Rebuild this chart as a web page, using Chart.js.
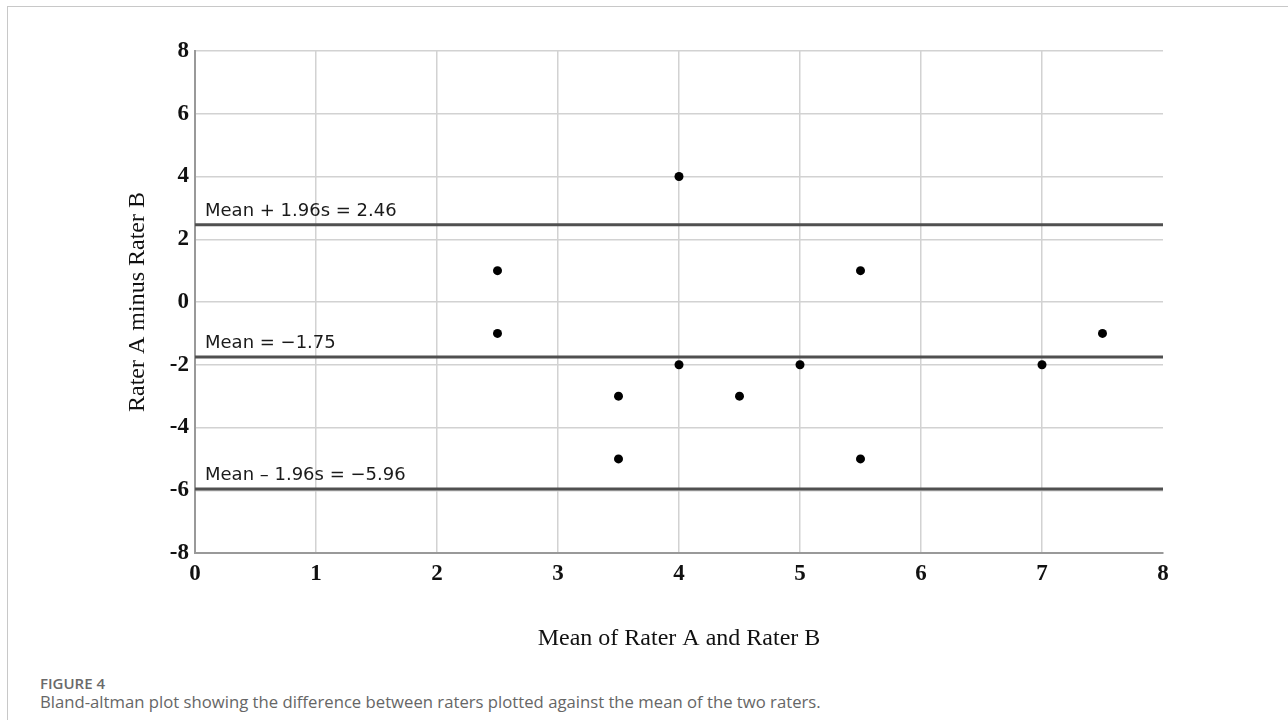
<!DOCTYPE html>
<html>
<head>
<meta charset="utf-8">
<script src="https://cdn.jsdelivr.net/npm/chart.js@4/dist/chart.umd.min.js"></script>
<style>
  body { margin: 0; background: #fff; width: 1288px; height: 720px; overflow: hidden; position: relative; }
  .frame { position: absolute; left: 7px; top: 6px; right: 0; bottom: 0; border-left: 1.5px solid #c8c8c8; border-top: 1.5px solid #c8c8c8; }
  #wrap { position: absolute; left: 0; top: 0; width: 1288px; height: 660px; }
  .fig-label { position: absolute; left: 40px; top: 673px; font: 600 15px "Open Sans", sans-serif; color: #6a6a6a; }
  .fig-caption { position: absolute; left: 40px; top: 690px; font: 400 16.7px "Open Sans", sans-serif; color: #666; }
</style>
</head>
<body>
<div class="frame"></div>
<div id="wrap"><canvas id="myChart"></canvas></div>
<div class="fig-label">FIGURE 4</div>
<div class="fig-caption">Bland-altman plot showing the difference between raters plotted against the mean of the two raters.</div>
<script>
// mean of the two raters (x) and difference A - B (y)
const meanAB = [2.5, 2.5, 4, 3.5, 3.5, 4, 4.5, 5, 5.5, 5.5, 7, 7.5];
const diffAB = [1, -1, 4, -3, -5, -2, -3, -2, 1, -5, -2, -1];

// limits of agreement
const refValues = [2.46, -1.75, -5.96];
const refLabels = ['Mean + 1.96s = 2.46', 'Mean = \u22121.75', 'Mean \u2013 1.96s = \u22125.96'];

const xRange = [0, 8];
const yRange = [-8, 8];

const points = meanAB.map((m, i) => ({ x: m, y: diffAB[i] }));

const datasets = [{
  type: 'scatter',
  label: 'Raters',
  data: points,
  backgroundColor: '#000',
  borderWidth: 0,
  pointRadius: 4.5,
  order: 0
}];

refValues.forEach((v, i) => {
  datasets.push({
    type: 'line',
    label: refLabels[i],
    data: [{ x: xRange[0], y: v }, { x: xRange[1], y: v }],
    borderColor: '#505050',
    borderWidth: 3,
    pointRadius: 0,
    fill: false,
    order: 1
  });
});

// write the text just above each reference line
const refText = {
  id: 'refText',
  afterDatasetsDraw(chart) {
    const { ctx, chartArea, scales } = chart;
    ctx.save();
    ctx.font = '18px "DejaVu Sans", sans-serif';
    ctx.fillStyle = '#1a1a1a';
    ctx.textAlign = 'left';
    ctx.textBaseline = 'alphabetic';
    refValues.forEach((v, i) => {
      const y = scales.y.getPixelForValue(v);
      ctx.fillText(refLabels[i], chartArea.left + 10, y - 9);
    });
    ctx.restore();
  }
};

const tickFont = { family: '"Liberation Serif", "Times New Roman", serif', size: 23, weight: 'bold' };
const titleFont = { family: '"Liberation Serif", "Times New Roman", serif', size: 24 };

new Chart(document.getElementById('myChart').getContext('2d'), {
  data: { datasets: datasets },
  options: {
    responsive: true,
    maintainAspectRatio: false,
    animation: false,
    layout: { padding: { left: 119, top: 51, right: 125, bottom: 3 } },
    scales: {
      x: {
        type: 'linear',
        min: xRange[0],
        max: xRange[1],
        ticks: { stepSize: 1, padding: 7, color: '#111', font: tickFont },
        grid: {
          // no vertical line on the right edge
          color: c => (c.tick && c.tick.value === xRange[1]) ? 'rgba(0,0,0,0)' : '#d2d2d2',
          lineWidth: 1.5,
          drawTicks: false
        },
        border: { color: '#999', width: 2 },
        title: { display: true, text: 'Mean of Rater A and Rater B', color: '#111', font: titleFont },
        afterFit: s => { s.height = 104; }
      },
      y: {
        type: 'linear',
        min: yRange[0],
        max: yRange[1],
        ticks: { stepSize: 2, padding: 6, color: '#111', font: tickFont },
        grid: { color: '#d2d2d2', lineWidth: 1.5, drawTicks: false },
        border: { color: '#999', width: 2 },
        title: { display: true, text: 'Rater A minus Rater B', color: '#111', font: titleFont },
        afterFit: s => { s.width = 76; }
      }
    },
    plugins: {
      legend: { display: false },
      tooltip: { enabled: false }
    }
  },
  plugins: [refText]
});
</script>
</body>
</html>
